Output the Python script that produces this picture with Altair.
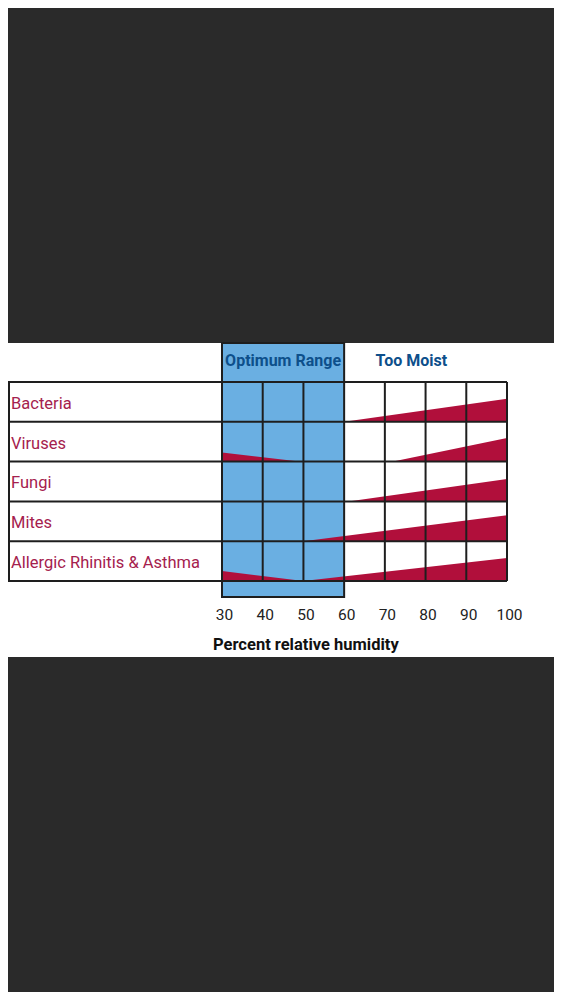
import altair as alt
import pandas as pd

# ---------------- data ----------------
conditions = ["Bacteria", "Viruses", "Fungi", "Mites", "Allergic Rhinitis & Asthma"]

# red wedges: relative humidity (%) and relative effect (fraction of row height)
bacteria_hum = [60, 100]
bacteria_risk = [0, 0.58]
viruses_low_hum = [30, 49]
viruses_low_risk = [0.23, 0]
viruses_high_hum = [72, 100]
viruses_high_risk = [0, 0.59]
fungi_hum = [61, 100]
fungi_risk = [0, 0.56]
mites_hum = [50, 100]
mites_risk = [0, 0.65]
allergy_hum = [30, 50, 100]
allergy_risk = [0.25, 0, 0.58]

tick_values = [30, 40, 50, 60, 70, 80, 90, 100]
inner_grid = [40, 50, 70, 80, 90, 100]
optimum_range = [30, 60]
header_labels = ["Optimum Range", "Too Moist"]
header_hum = [45, 76.5]
axis_title = "Percent relative humidity"

# ---------------- layout / style ----------------
W, H = 546, 984
X_MIN, X_MAX = -22.561, 111.544
Y_MIN, Y_MAX = -10.327, 14.397
BAND_TOP, BAND_BOTTOM = 5.98, -1.91
BOX_BOTTOM = -0.402
HEADER_Y = 5.53
TICK_Y = -0.845
TITLE_Y = -1.6
TITLE_HUM = 50.6

BG = "#2a2a2a"
BLUE = "#6aafe2"
RED = "#b10f3b"
LINE = "#1e1e1e"
LABEL_RED = "#a5214e"
HEAD_BLUE = "#0d4f8b"
FONT = "Roboto"

xs = alt.Scale(domain=[X_MIN, X_MAX], nice=False, zero=False)
ys = alt.Scale(domain=[Y_MIN, Y_MAX], nice=False, zero=False)

n = len(conditions)
segments = [
    ("Bacteria", bacteria_hum, bacteria_risk),
    ("Viruses", viruses_low_hum, viruses_low_risk),
    ("Viruses", viruses_high_hum, viruses_high_risk),
    ("Fungi", fungi_hum, fungi_risk),
    ("Mites", mites_hum, mites_risk),
    ("Allergic Rhinitis & Asthma", allergy_hum, allergy_risk),
]


def xq(field):
    return alt.X(field, type="quantitative", scale=xs, axis=None)


def yq(field):
    return alt.Y(field, type="quantitative", scale=ys, axis=None)


wedge_layers = []
for cond, hums, risks in segments:
    base = n - 1 - conditions.index(cond)
    seg_df = pd.DataFrame({"hum": hums,
                           "lo": [base] * len(hums),
                           "hi": [base + r for r in risks]})
    wedge_layers.append(
        alt.Chart(seg_df).mark_area(color=RED, opacity=1).encode(
            x=xq("hum"), y=yq("hi"), y2=alt.Y2("lo")))

label_df = pd.DataFrame({"cond": conditions,
                         "yc": [n - 1 - i + 0.5 for i in range(n)]})
hlines = pd.DataFrame({"y": list(range(n + 1)), "x0": X_MIN, "x1": 100})
vlines = pd.DataFrame({"x": inner_grid, "y0": 0, "y1": n})
ticks_df = pd.DataFrame({"x": tick_values, "lab": [str(v) for v in tick_values], "y": TICK_Y})
title_df = pd.DataFrame({"x": [TITLE_HUM], "y": [TITLE_Y], "t": [axis_title]})
header_df = pd.DataFrame({"label": header_labels, "x": header_hum, "y": HEADER_Y})
band_df = pd.DataFrame({"x0": [X_MIN], "x1": [X_MAX], "y0": [BAND_BOTTOM], "y1": [BAND_TOP]})
box_df = pd.DataFrame({"x0": [optimum_range[0]], "x1": [optimum_range[1]],
                       "y0": [BOX_BOTTOM], "y1": [BAND_TOP]})

band = alt.Chart(band_df).mark_rect(color="white").encode(
    x=xq("x0"), x2="x1", y=yq("y0"), y2="y1")

box_fill = alt.Chart(box_df).mark_rect(color=BLUE).encode(
    x=xq("x0"), x2="x1", y=yq("y0"), y2="y1")

hrules = alt.Chart(hlines).mark_rule(color=LINE, strokeWidth=2).encode(
    x=xq("x0"), x2="x1", y=yq("y"))

vrules = alt.Chart(vlines).mark_rule(color=LINE, strokeWidth=2).encode(
    x=xq("x"), y=yq("y0"), y2="y1")

left_border = alt.Chart(vlines.head(1)).mark_rule(color=LINE, strokeWidth=2).encode(
    x=alt.value(1), y=yq("y0"), y2="y1")

box_stroke = alt.Chart(box_df).mark_rect(fillOpacity=0, stroke=LINE, strokeWidth=2).encode(
    x=xq("x0"), x2="x1", y=yq("y0"), y2="y1")

labels = alt.Chart(label_df).mark_text(
    align="left", baseline="middle", font=FONT, fontSize=16.5, color=LABEL_RED, dy=2
).encode(x=alt.value(3), y=yq("yc"), text="cond:N")

headers = alt.Chart(header_df).mark_text(
    align="center", baseline="middle", font=FONT, fontSize=16, fontWeight="bold", color=HEAD_BLUE
).encode(x=xq("x"), y=yq("y"), text="label:N")

tick_labels = alt.Chart(ticks_df).mark_text(
    align="center", baseline="middle", font=FONT, fontSize=15.5, color="#222222", dx=2.5
).encode(x=xq("x"), y=yq("y"), text="lab:N")

title = alt.Chart(title_df).mark_text(
    align="center", baseline="middle", font=FONT, fontSize=16.5, fontWeight="bold", color="#111111"
).encode(x=xq("x"), y=yq("y"), text="t:N")

chart = alt.layer(
    band, box_fill, *wedge_layers, hrules, vrules, left_border, box_stroke,
    labels, headers, tick_labels, title
).properties(
    width=W, height=H, background=BG, padding=0,
    autosize=alt.AutoSizeParams(type="none")
).configure_view(stroke=None)

chart.save("out.html", embed_options={"renderer": "svg", "actions": False})
